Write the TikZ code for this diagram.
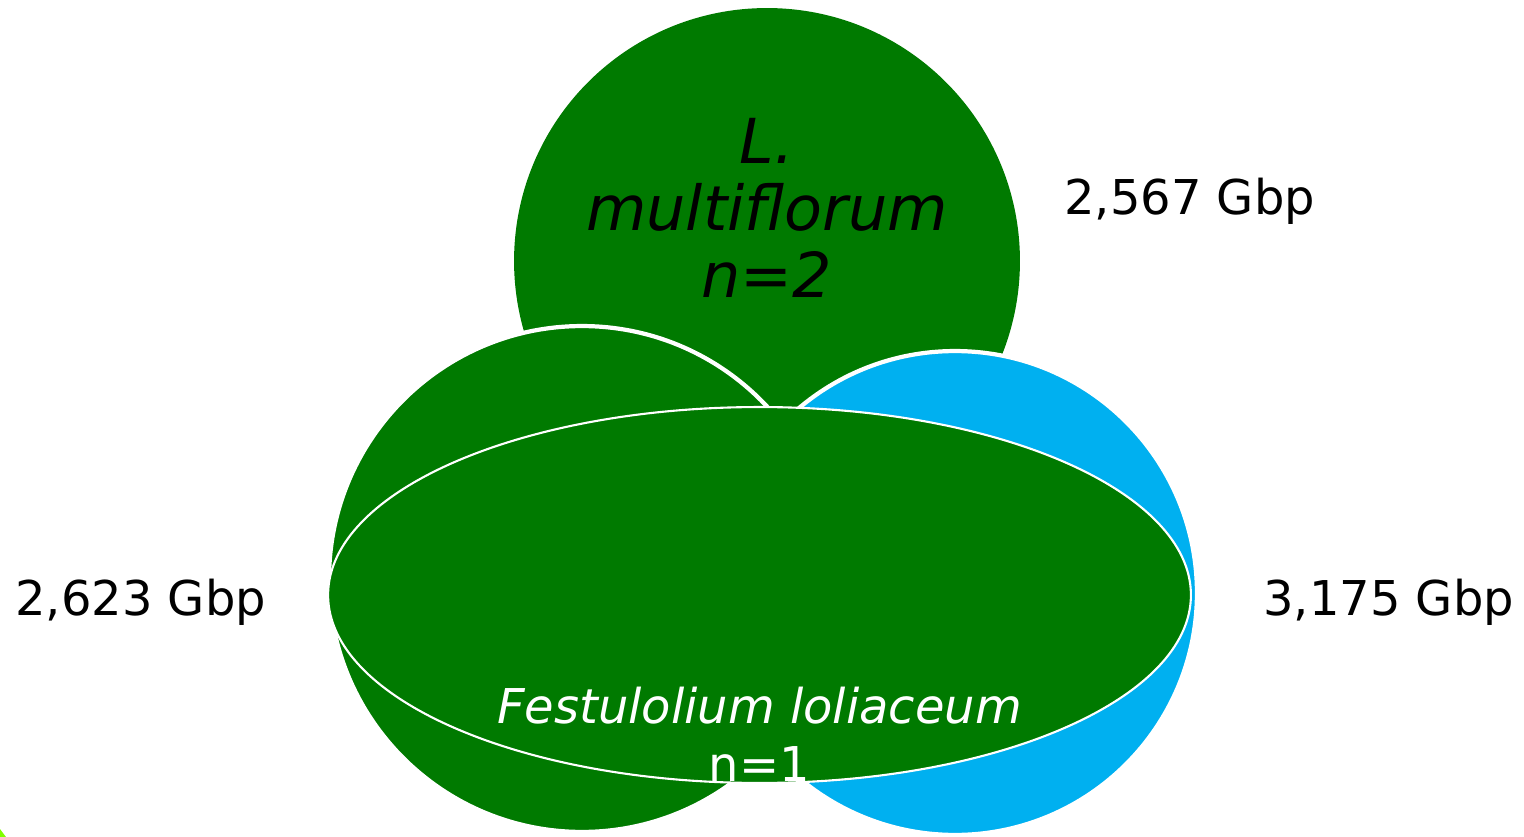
\documentclass[tikz,border=0pt]{standalone}
\usepackage{fontspec}
\setmainfont{DejaVu Sans}
\usepackage{xcolor}
\usetikzlibrary{positioning,shapes.geometric}

\definecolor{grassgreen}{RGB}{0,122,0}
\definecolor{skyblue}{RGB}{0,176,240}
\definecolor{limegreen}{RGB}{128,255,0}

\begin{document}
\begin{tikzpicture}[
    x=0.02cm, y=-0.02cm,
    genome/.style={circle, inner sep=0pt, fill=grassgreen},
    cross/.style={ellipse, inner sep=0pt, fill=grassgreen, draw=white, line width=1.2pt},
    sizelabel/.style={anchor=base west, inner sep=0pt, font=\fontsize{27.3}{33}\selectfont},
    speciestext/.style={align=center, inner sep=0pt}
]
\useasboundingbox (0,0) rectangle (1524,837);

% the three parental genomes and the hybrid
\node[genome, minimum size=10.12cm] (multi) at (767,261) {};
\node[genome, draw=white, line width=2.4pt, minimum size=10.12cm] (left) at (582,579) {};
\node[genome, fill=skyblue, draw=white, line width=2.4pt, minimum size=9.68cm] (right) at (955,593) {};
\node[cross, minimum width=17.26cm, minimum height=7.52cm] (festu) at (759.5,595) {};

\node[speciestext, font=\fontsize{35.3}{38.1}\selectfont\itshape] (multitext) at (767,208)
    {L.\\multiflorum\\n=2};
\node[speciestext, text=white, font=\fontsize{27.3}{33}\selectfont] (festutext) at (759.5,734)
    {\itshape Festulolium loliaceum\\n=1};

\node[sizelabel] (multisize) at (1064,215) {2,567 Gbp};
\node[sizelabel] (leftsize) at (15,615) {2,623 Gbp};
\node[sizelabel] (rightsize) at (1263,615) {3,175 Gbp};

\fill[limegreen] (0,829) -- (6,837) -- (0,837) -- cycle;
\end{tikzpicture}
\end{document}
